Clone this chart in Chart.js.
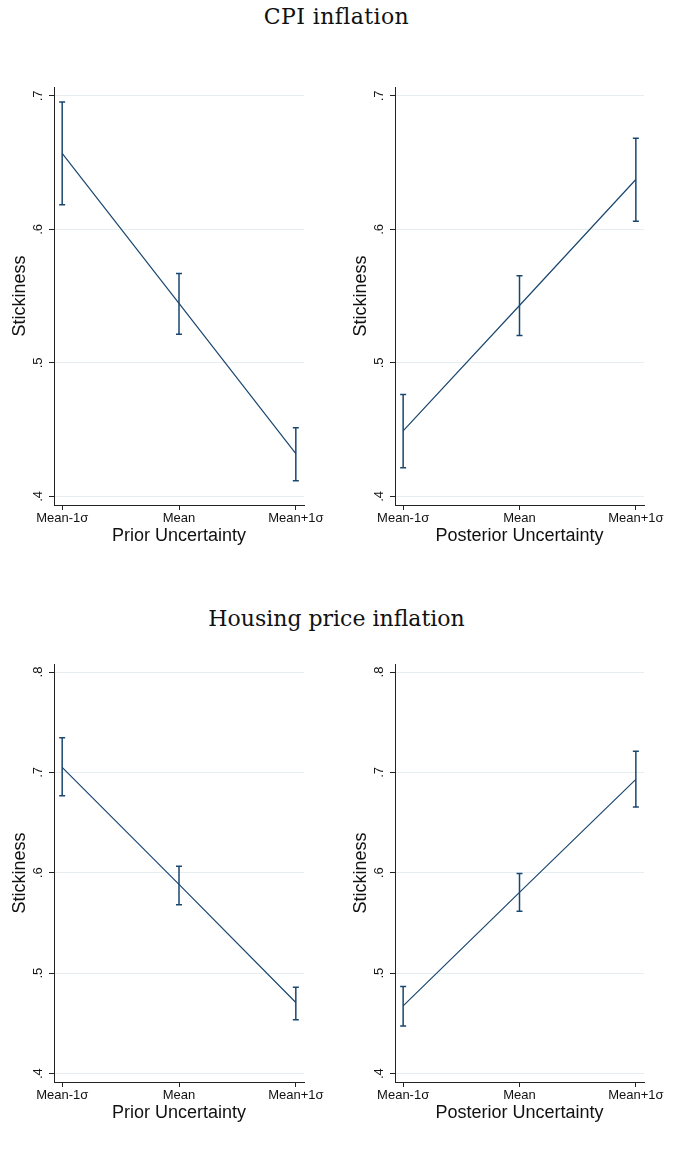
<!DOCTYPE html>
<html>
<head>
<meta charset="utf-8">
<script src="https://cdn.jsdelivr.net/npm/chart.js@4/dist/chart.umd.min.js"></script>
<style>
  html, body { margin: 0; padding: 0; background: #fff; }
  body { width: 686px; height: 1152px; position: relative; overflow: hidden; }
  .ttl { position: absolute; left: 0; width: 673px; text-align: center;
         font-family: "DejaVu Serif", serif; font-size: 22px; line-height: 22px; color: #111; }
  canvas { position: absolute; }
</style>
</head>
<body>
<div class="ttl" style="top:6px;letter-spacing:0.4px">CPI inflation</div>
<div class="ttl" style="top:608px">Housing price inflation</div>
<canvas id="c1" width="343" height="480" style="left:0px;top:70px"></canvas>
<canvas id="c2" width="343" height="480" style="left:341px;top:70px"></canvas>
<canvas id="c3" width="343" height="480" style="left:0px;top:647px"></canvas>
<canvas id="c4" width="343" height="480" style="left:341px;top:647px"></canvas>
<script>
// ---- data ----
const categories = ['Mean-1σ', 'Mean', 'Mean+1σ'];

const cpiPriorMean = [0.657, 0.5445, 0.432];
const cpiPriorLo   = [0.6184, 0.5215, 0.4117];
const cpiPriorHi   = [0.6955, 0.567, 0.4513];

const cpiPostMean = [0.449, 0.543, 0.6374];
const cpiPostLo   = [0.4214, 0.5205, 0.6061];
const cpiPostHi   = [0.4763, 0.5652, 0.6683];

const housePriorMean = [0.705, 0.5885, 0.4708];
const housePriorLo   = [0.6767, 0.5682, 0.4535];
const housePriorHi   = [0.7345, 0.6064, 0.486];

const housePostMean = [0.4674, 0.5805, 0.693];
const housePostLo   = [0.4475, 0.5617, 0.6656];
const housePostHi   = [0.4867, 0.5993, 0.721];

const cpiYTicks = [0.4, 0.5, 0.6, 0.7];
const cpiYLabels = ['.4', '.5', '.6', '.7'];
const houseYTicks = [0.4, 0.5, 0.6, 0.7, 0.8];
const houseYLabels = ['.4', '.5', '.6', '.7', '.8'];

const yTitle = 'Stickiness';
const xTitlePrior = 'Prior Uncertainty';
const xTitlePost = 'Posterior Uncertainty';

// ---- styling ----
Chart.defaults.font.family = '"Liberation Sans", Arial, sans-serif';
Chart.defaults.color = '#111';
const NAVY = '#1a476f';

const errorBarPlugin = {
  id: 'errorBars',
  afterDatasetsDraw(chart) {
    const ctx = chart.ctx;
    const xs = chart.scales.x, ys = chart.scales.y;
    chart.data.datasets.forEach(ds => {
      if (!ds.errLo) return;
      ctx.save();
      ctx.strokeStyle = NAVY;
      ctx.lineWidth = 1.5;
      ds.errLo.forEach((lo, i) => {
        const hi = ds.errHi[i];
        const px = xs.getPixelForValue(i);
        const pLo = ys.getPixelForValue(lo);
        const pHi = ys.getPixelForValue(hi);
        ctx.beginPath();
        ctx.moveTo(px, pLo); ctx.lineTo(px, pHi);
        ctx.moveTo(px - 3, pLo); ctx.lineTo(px + 3, pLo);
        ctx.moveTo(px - 3, pHi); ctx.lineTo(px + 3, pHi);
        ctx.stroke();
      });
      ctx.restore();
    });
  }
};

function makePanel(id, mean, lo, hi, yMin, yMax, yTicks, yLabels, xTitle, padRight) {
  new Chart(document.getElementById(id), {
    type: 'line',
    data: {
      datasets: [{
        data: mean.map((v, i) => ({ x: i, y: v })),
        errLo: lo,
        errHi: hi,
        borderColor: NAVY,
        borderWidth: 1.2,
        pointRadius: 0,
        tension: 0,
        fill: false
      }]
    },
    options: {
      responsive: false,
      animation: false,
      events: [],
      layout: { padding: { top: 17, right: padRight, left: 0, bottom: 0 } },
      plugins: { legend: { display: false }, tooltip: { enabled: false } },
      scales: {
        x: {
          type: 'linear',
          min: -0.07, max: 2.07,
          afterBuildTicks: s => { s.ticks = categories.map((c, i) => ({ value: i })); },
          afterFit: s => { s.height = 45; },
          ticks: {
            callback: v => categories[v],
            font: { size: 13 }, color: '#111', padding: 1, maxRotation: 0, autoSkip: false
          },
          grid: { display: true, drawOnChartArea: false, drawTicks: true, tickLength: 5, tickColor: '#222', color: '#222' },
          border: { display: true, color: '#222', width: 1 },
          title: { display: true, text: xTitle, font: { size: 18 }, color: '#111', padding: { top: 0, bottom: 3 } }
        },
        y: {
          type: 'linear',
          min: yMin, max: yMax,
          afterBuildTicks: s => { s.ticks = yTicks.map(v => ({ value: v })); },
          afterFit: s => { s.width = 54; },
          ticks: {
            callback: (v, i) => yLabels[i],
            font: { size: 13 }, color: '#111',
            minRotation: 90, maxRotation: 90,
            crossAlign: 'center', padding: 5.5, autoSkip: false
          },
          grid: { display: true, drawOnChartArea: true, drawTicks: true, tickLength: 5, color: '#e6eef1', tickColor: '#222', lineWidth: 1 },
          border: { display: true, color: '#222', width: 1 },
          title: { display: true, text: yTitle, font: { size: 18 }, color: '#111', padding: { top: 9.2, bottom: 0 } }
        }
      }
    },
    plugins: [errorBarPlugin]
  });
}

makePanel('c1', cpiPriorMean, cpiPriorLo, cpiPriorHi, 0.3935, 0.7067, cpiYTicks, cpiYLabels, xTitlePrior, 39);
makePanel('c2', cpiPostMean, cpiPostLo, cpiPostHi, 0.3935, 0.7067, cpiYTicks, cpiYLabels, xTitlePost, 40);
makePanel('c3', housePriorMean, housePriorLo, housePriorHi, 0.3916, 0.808, houseYTicks, houseYLabels, xTitlePrior, 39);
makePanel('c4', housePostMean, housePostLo, housePostHi, 0.3916, 0.808, houseYTicks, houseYLabels, xTitlePost, 40);
</script>
</body>
</html>
